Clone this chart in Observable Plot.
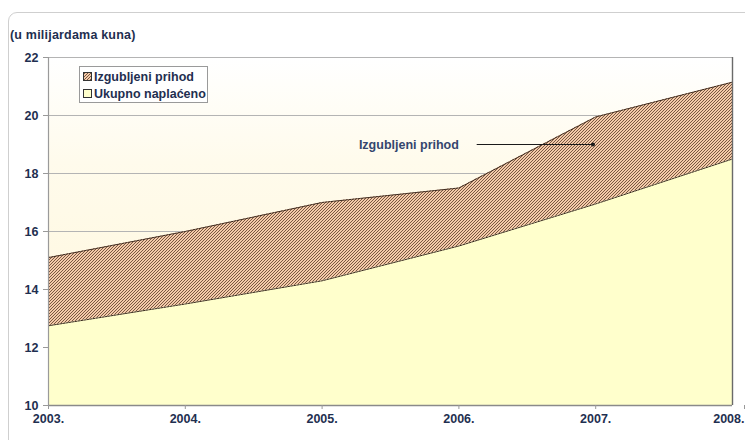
<!DOCTYPE html>
<html>
<head>
<meta charset="utf-8">
<script src="https://cdn.jsdelivr.net/npm/d3@7"></script>
<script src="https://cdn.jsdelivr.net/npm/@observablehq/plot@0.6"></script>
<style>
  html, body { margin: 0; padding: 0; background: #fff; }
  #wrap { position: relative; width: 745px; height: 440px; overflow: hidden; font-family: "Liberation Sans", Arial, sans-serif; }
  #frame { position: absolute; left: 8px; top: 12px; width: 760px; height: 460px; border: 1.5px solid #cfcfcf; border-radius: 9px; box-sizing: border-box; }
  #title { position: absolute; left: 10px; top: 28px; font-size: 12.5px; font-weight: bold; color: #1f2f50; letter-spacing: 0.2px; }
  #legend { position: absolute; left: 79px; top: 66px; width: 129px; height: 37px; border: 1px solid #9a9a9a; background: #fff; box-sizing: border-box; font-size: 12.5px; font-weight: bold; color: #1f2f50; padding: 1px 0 0 3px; }
  #legend .item { display: flex; align-items: center; height: 17px; white-space: nowrap; }
  #legend svg { margin-right: 2px; flex: none; }
  #chart { position: absolute; left: 0; top: 0; }
</style>
</head>
<body>
<div id="wrap">
  <div id="frame"></div>
  <div id="chart"></div>
  <div id="title">(u milijardama kuna)</div>
  <div id="legend"></div>
</div>
<script>
// ---- data ----
const years = [2003, 2004, 2005, 2006, 2007, 2008];
const collected = [12.75, 13.5, 14.3, 15.5, 16.95, 18.5];   // Ukupno naplaćeno
const total = [15.1, 16.0, 17.0, 17.5, 19.95, 21.15];       // naplaćeno + izgubljeni prihod
const yTicks = [10, 12, 14, 16, 18, 20, 22];
const seriesNames = ["Izgubljeni prihod", "Ukupno naplaćeno"];
const annotation = [{text: "Izgubljeni prihod", x: 2006.0, y: 19.0, x1: 2006.13, x2: 2006.98}];

const rows = years.map((y, i) => ({year: y, low: collected[i], high: total[i]}));

const ink = "#1f2f50";
const lastYear = years[years.length - 1];

const svg = Plot.plot({
  width: 745,
  height: 440,
  marginLeft: 48,
  marginRight: 13,
  marginTop: 57,
  marginBottom: 35,
  style: {fontFamily: "'Liberation Sans', Arial, sans-serif", fontSize: "12px", fontWeight: "bold", color: ink, background: "transparent", overflow: "visible"},
  x: {domain: [2003, 2008], axis: null},
  y: {domain: [10, 22], axis: null},
  marks: [
    Plot.frame({fill: "url(#bgGrad)", stroke: "none"}),
    Plot.ruleY(yTicks.filter(d => d > 10), {stroke: "#b4b4b4", strokeWidth: 1.2}),
    Plot.areaY(rows, {x: "year", y1: 10, y2: "low", fill: "#ffffcc"}),
    Plot.areaY(rows, {x: "year", y1: "low", y2: "high", fill: "url(#hatch)"}),
    Plot.line(rows, {x: "year", y: "high", stroke: "#3a2a20", strokeWidth: 1, strokeDasharray: "2,1"}),
    Plot.line(rows, {x: "year", y: "low", stroke: "#3a2a20", strokeWidth: 1, strokeDasharray: "2,1"}),
    Plot.ruleX([2003], {stroke: "#9a9a9a", strokeWidth: 1.2}),
    Plot.ruleX([2008], {y1: 10, y2: 22, stroke: "#6a6a6a", strokeWidth: 1.4}),
    Plot.ruleY([10], {stroke: "#8a8a8a", strokeWidth: 1.4}),
    Plot.axisY({ticks: yTicks, tickSize: 5, tickPadding: 5, stroke: "#999", fill: ink, tickFormat: d => d, label: null, fontSize: 12.5}),
    Plot.axisX({ticks: years.filter(d => d !== lastYear), tickSize: 4, tickPadding: 5, stroke: "#999", fill: ink, tickFormat: d => d + ".", label: null, fontSize: 12.5}),
    Plot.axisX({ticks: [lastYear], tickSize: 4, tickPadding: 5, stroke: "#999", fill: ink, tickFormat: d => d + ".", label: null, fontSize: 12.5, textAnchor: "end", dx: 12}),
    Plot.text(annotation, {x: "x", y: "y", text: "text", textAnchor: "end", fill: "#34466e", fontSize: 12.5, fontWeight: "bold"}),
    Plot.link(annotation, {x1: "x1", x2: "x2", y1: "y", y2: "y", stroke: "#1a1a1a", strokeWidth: 1.2, markerEnd: "dot"})
  ]
});

// pattern / gradient definitions
const ns = "http://www.w3.org/2000/svg";
const defs = document.createElementNS(ns, "defs");
defs.innerHTML = `
  <linearGradient id="bgGrad" x1="0" y1="0" x2="0" y2="1">
    <stop offset="0" stop-color="#ffffff"/>
    <stop offset="0.3" stop-color="#fffbec"/>
    <stop offset="1" stop-color="#fff6d8"/>
  </linearGradient>
  <pattern id="hatch" patternUnits="userSpaceOnUse" width="3" height="3">
    <rect width="3" height="3" fill="#f4caa9"/>
    <path d="M-0.75,0.75 l1.5,-1.5 M0,3 l3,-3 M2.25,3.75 l1.5,-1.5" stroke="#6b4a36" stroke-width="0.9"/>
  </pattern>`;
svg.insertBefore(defs, svg.firstChild);
document.getElementById("chart").appendChild(svg);

// legend
const legendFills = ["url(#hatch)", "#ffffcc"];
const legend = document.getElementById("legend");
seriesNames.forEach((name, i) => {
  const item = document.createElement("div");
  item.className = "item";
  item.innerHTML = `<svg width="9" height="9"><rect x="0.5" y="0.5" width="8" height="8" fill="${legendFills[i]}" stroke="#333" stroke-width="1"/></svg><span>${name}</span>`;
  legend.appendChild(item);
});
</script>
</body>
</html>
